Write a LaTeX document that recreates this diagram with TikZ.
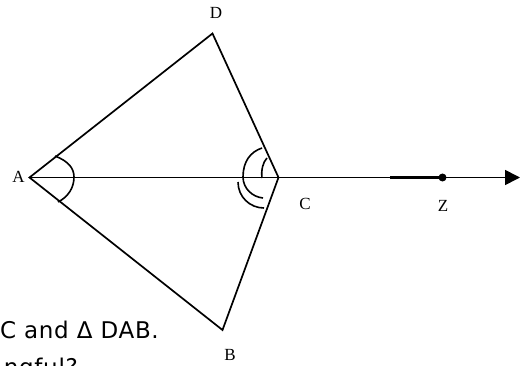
\documentclass[tikz,border=0pt]{standalone}
\usepackage{fontspec}
\setmainfont{Liberation Serif}
\newfontfamily\notefont[LetterSpace=3]{DejaVu Sans}
\usetikzlibrary{arrows.meta}

\begin{document}
\begin{tikzpicture}[
x=1pt, y=-1pt,
lab/.style={
font=\fontsize{17}{17}\selectfont,
inner sep=0pt
},
side/.style={
line width=1.7pt,
color=black
},
anglearc/.style={
line width=1.6pt,
color=black
},
note/.style={
font=\notefont\fontsize{23}{27}\selectfont,
inner sep=0pt,
anchor=base east
}
]

\path[use as bounding box, clip] (0,0) rectangle (524,366);

% points of the figure
\coordinate (A) at (29.5,177.5);
\coordinate (D) at (212.5,33.5);
\coordinate (C) at (278.5,177.5);
\coordinate (B) at (222.5,330);
\coordinate (Z) at (442.5,177.5);
\coordinate (Zl) at (390,177.5);
\coordinate (tip) at (520,177.5);

\node[lab] (labA) at (18.5,176.5) {A};
\node[lab] (labD) at (216,12.5) {D};
\node[lab] (labC) at (305,203.5) {C};
\node[lab] (labB) at (230,355) {B};
\node[lab] (labZ) at (443,206) {Z};

\draw[side] (A) -- (D) -- (C) -- (B) -- cycle;

\draw[line width=1.6pt, -{Triangle[length=15pt,width=15pt]}]
(A) -- (tip);

\draw[line width=2.1pt] (Zl) -- (Z);

\fill (Z) circle (4pt);

% angle marks
\draw[anglearc]
(55,156) .. controls (68,161) and (74,168) .. (74,177)
.. controls (74,188) and (68,197) .. (58,202);

\draw[anglearc]
(262,148) .. controls (250,152) and (243,162) .. (243,177)
.. controls (243,188) and (252,197) .. (263,198);

\draw[anglearc]
(267,158) .. controls (263,162) and (261,170) .. (262,178);

\draw[anglearc]
(238,182) .. controls (238,197) and (250,208) .. (264,208);

\node[note] (line1) at (159,338) {C and Δ DAB.};
\node[note] (line2) at (78,375) {ngful?};

\end{tikzpicture}
\end{document}
